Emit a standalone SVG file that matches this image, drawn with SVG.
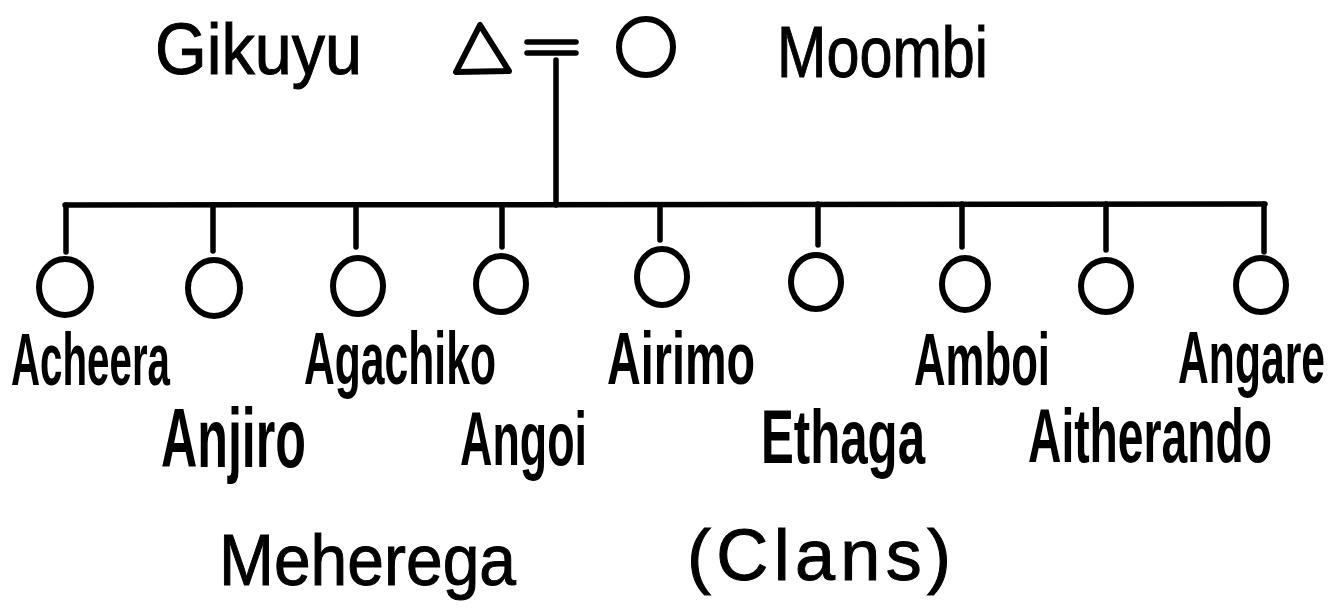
<svg xmlns="http://www.w3.org/2000/svg" width="1335" height="608" viewBox="0 0 1335 608">
<style>
.ln{stroke:#000;stroke-width:5.5;fill:none;stroke-linecap:round;stroke-linejoin:round}
.sh{stroke:#000;stroke-width:6;fill:none;stroke-linejoin:round}
.t{font-family:"Liberation Sans","DejaVu Sans",sans-serif;fill:#000}
.tt{font-size:72px;stroke:#000;stroke-width:1}
.lb{font-size:74px;font-weight:bold}
.lb2{font-size:76px;font-weight:bold}
</style>
<rect width="1335" height="608" fill="#fff"/>
<g id="connectors">
<line class="ln" x1="527" y1="42" x2="576" y2="42"/>
<line class="ln" x1="527" y1="53" x2="576" y2="53"/>
<line class="ln" x1="556" y1="60" x2="556" y2="205"/>
<line class="ln" x1="65" y1="205" x2="1265" y2="204"/>
<line class="ln" x1="66" y1="205" x2="66" y2="252"/>
<line class="ln" x1="213" y1="205" x2="213" y2="251"/>
<line class="ln" x1="356" y1="205" x2="356" y2="247"/>
<line class="ln" x1="502" y1="205" x2="502" y2="247"/>
<line class="ln" x1="660" y1="205" x2="660" y2="240"/>
<line class="ln" x1="818" y1="204" x2="818" y2="245"/>
<line class="ln" x1="962" y1="204" x2="962" y2="247"/>
<line class="ln" x1="1106" y1="204" x2="1106" y2="250"/>
<line class="ln" x1="1264" y1="204" x2="1264" y2="252"/>
</g>
<g id="gikuyu">
<polygon class="sh" points="480,25 456,72 509,71"/>
<text class="t tt" x="155" y="74" textLength="207" lengthAdjust="spacingAndGlyphs">Gikuyu</text>
</g>
<g id="moombi">
<ellipse class="sh" cx="646" cy="47" rx="27" ry="28"/>
<text class="t tt" x="777" y="77" textLength="211" lengthAdjust="spacingAndGlyphs">Moombi</text>
</g>
<g id="acheera"><ellipse class="sh" cx="65" cy="287" rx="26" ry="28"/><text class="t lb" x="11" y="385" textLength="159" lengthAdjust="spacingAndGlyphs">Acheera</text></g>
<g id="anjiro"><ellipse class="sh" cx="214" cy="288" rx="26" ry="28"/><text class="t lb2" x="161" y="467" textLength="145" lengthAdjust="spacingAndGlyphs" style="font-size:84px">Anjiro</text></g>
<g id="agachiko"><ellipse class="sh" cx="358" cy="286" rx="25" ry="28"/><text class="t lb" x="304" y="384" textLength="192" lengthAdjust="spacingAndGlyphs">Agachiko</text></g>
<g id="angoi"><ellipse class="sh" cx="501" cy="284" rx="25" ry="28"/><text class="t lb2" x="460" y="465" textLength="127" lengthAdjust="spacingAndGlyphs">Angoi</text></g>
<g id="airimo"><ellipse class="sh" cx="662" cy="277" rx="25" ry="28"/><text class="t lb" x="607" y="384" textLength="148" lengthAdjust="spacingAndGlyphs">Airimo</text></g>
<g id="ethaga"><ellipse class="sh" cx="816" cy="282" rx="25" ry="27"/><text class="t lb2" x="761" y="463" textLength="164" lengthAdjust="spacingAndGlyphs">Ethaga</text></g>
<g id="amboi"><ellipse class="sh" cx="965" cy="284" rx="23" ry="26"/><text class="t lb" x="914" y="385" textLength="136" lengthAdjust="spacingAndGlyphs">Amboi</text></g>
<g id="aitherando"><ellipse class="sh" cx="1106" cy="286" rx="25" ry="26"/><text class="t lb2" x="1028" y="462" textLength="244" lengthAdjust="spacingAndGlyphs">Aitherando</text></g>
<g id="angare"><ellipse class="sh" cx="1261" cy="285" rx="25" ry="27"/><text class="t lb" x="1178" y="383" textLength="147" lengthAdjust="spacingAndGlyphs">Angare</text></g>
<g id="caption">
<text class="t tt" x="219" y="585" textLength="297" lengthAdjust="spacingAndGlyphs">Meherega</text>
<text class="t tt" x="687" y="580" textLength="264" lengthAdjust="spacing">(Clans)</text>
</g>
</svg>
